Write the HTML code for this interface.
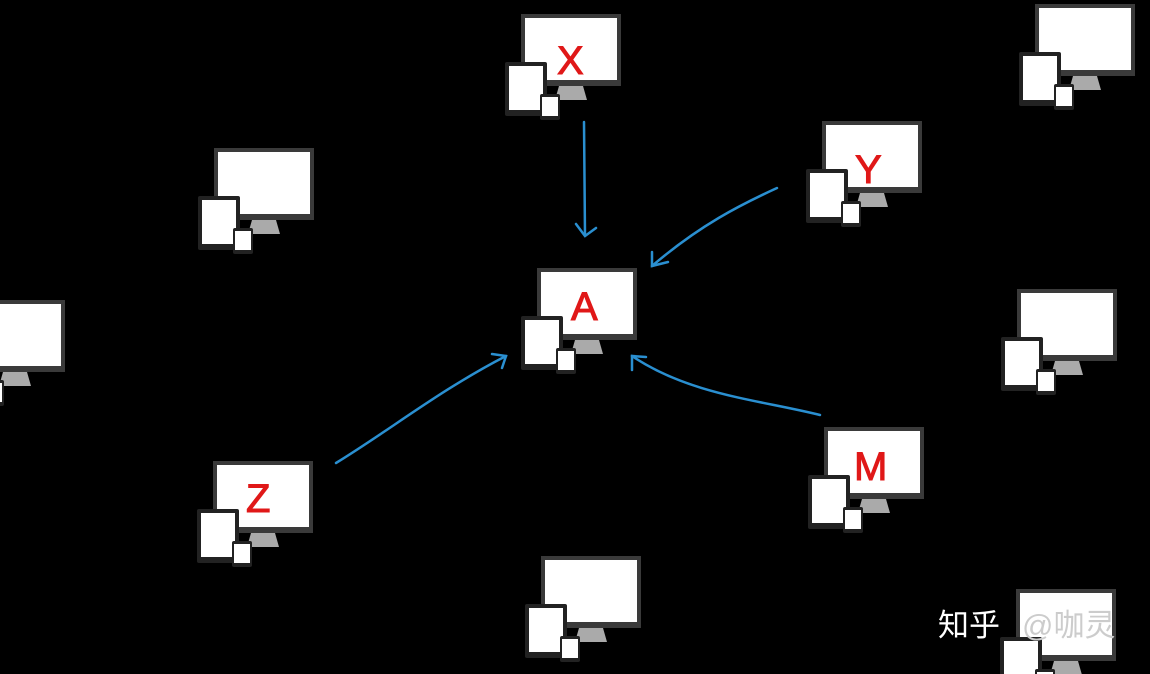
<!DOCTYPE html>
<html><head><meta charset="utf-8"><style>
html,body{margin:0;padding:0;background:#000;width:1150px;height:674px;overflow:hidden}
svg{display:block}
.lbl{font-family:"Liberation Sans",sans-serif;fill:#e01818;font-size:40px;stroke:#e01818;stroke-width:1}
</style></head><body>
<svg width="1150" height="674" viewBox="0 0 1150 674" xmlns="http://www.w3.org/2000/svg">
<defs>
<g id="dev">
<rect x="0" y="0" width="100" height="72" fill="#3a3a3a"/>
<rect x="4" y="4" width="92" height="62" fill="#fff"/>
<polygon points="38,72 62,72 66,86 34,86" fill="#aaa"/>
<rect x="-16" y="48" width="42" height="54" rx="2" fill="#222"/>
<rect x="-12" y="52" width="34" height="44" fill="#fff"/>
<rect x="19" y="80" width="20" height="26" rx="2" fill="#222"/>
<rect x="21" y="83" width="16" height="19" fill="#fff"/>
</g>
</defs>
<use href="#dev" x="521" y="14"/>
<use href="#dev" x="822" y="121"/>
<use href="#dev" x="214" y="148"/>
<use href="#dev" x="1035" y="4"/>
<use href="#dev" x="-35" y="300"/>
<use href="#dev" x="537" y="268"/>
<use href="#dev" x="1017" y="289"/>
<use href="#dev" x="213" y="461"/>
<use href="#dev" x="824" y="427"/>
<use href="#dev" x="541" y="556"/>
<use href="#dev" x="1016" y="589"/>
<text class="lbl" x="557" y="74">X</text>
<text class="lbl" x="855" y="183">Y</text>
<text class="lbl" x="571" y="320">A</text>
<text class="lbl" x="246" y="512">Z</text>
<text class="lbl" x="854" y="480">M</text>
<g fill="none" stroke="#2a8fd0" stroke-width="2.5" stroke-linecap="round">
<path d="M584,122 L585,235"/><path d="M576,224 L585,236 L596,228"/>
<path d="M777,188 C740,205 700,225 652,266"/><path d="M652,252 L652,266 L668,262"/>
<path d="M336,463 C390,430 440,390 506,356"/><path d="M492,354 L506,356 L502,368"/>
<path d="M820,415 C760,400 690,395 632,356"/><path d="M632,370 L632,356 L646,357"/>
</g>
<text x="938" y="636" font-family="'Liberation Sans','Noto Sans CJK SC',sans-serif" font-size="31" fill="#fff">知乎</text>
<text x="1022" y="636" font-family="'Liberation Sans','Noto Sans CJK SC',sans-serif" font-size="31" fill="#ccc">@咖灵</text>
</svg>
</body></html>
